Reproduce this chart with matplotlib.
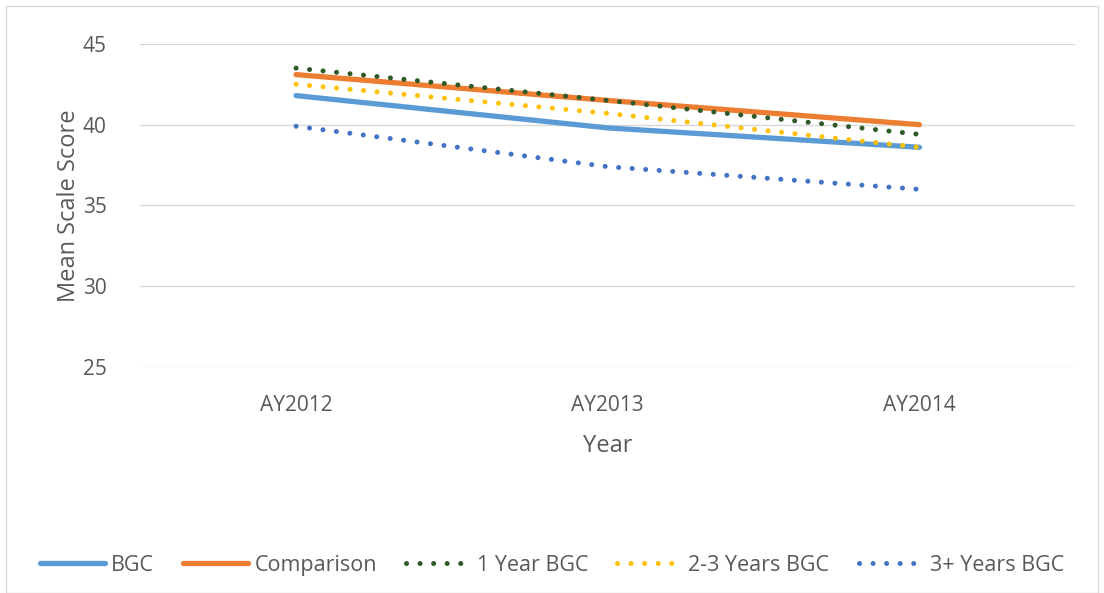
import numpy as np
import matplotlib
matplotlib.use("Agg")
import matplotlib.pyplot as plt
from matplotlib.patches import Rectangle

years = ['AY2012', 'AY2013', 'AY2014']
bgc = [41.8, 39.8, 38.6]
comparison = [43.1, 41.5, 40.0]
one_year = [43.5, 41.5, 39.4]
two_three_years = [42.5, 40.7, 38.6]
three_plus_years = [39.9, 37.4, 36.0]

plt.rcParams.update({
    'font.family': ['Open Sans', 'DejaVu Sans'],
    'font.size': 11,
})

TEXT_COLOR = '#595959'
GRID_COLOR = '#D9D9D9'

fig = plt.figure(figsize=(11.04, 5.93), dpi=100)
ax = fig.add_axes([0.127, 0.381, 0.847, 0.545])

x = np.arange(len(years))
dots = (0, (0.01, 2.7))

ax.plot(x, bgc, color='#5B9BD5', lw=3.8, solid_capstyle='round', label='BGC', zorder=3)
ax.plot(x, comparison, color='#ED7D31', lw=3.8, solid_capstyle='round', label='Comparison', zorder=3)
ax.plot(x, one_year, color='#2F5A28', lw=3.6, linestyle=dots, dash_capstyle='round',
        label='1 Year BGC', zorder=4)
ax.plot(x, two_three_years, color='#FFC000', lw=3.6, linestyle=dots, dash_capstyle='round',
        label='2-3 Years BGC', zorder=4)
ax.plot(x, three_plus_years, color='#4472C4', lw=3.6, linestyle=dots, dash_capstyle='round',
        label='3+ Years BGC', zorder=4)

ax.set_xlim(-0.5, 2.5)
ax.set_ylim(25, 45)
ax.set_yticks([25, 30, 35, 40, 45])
ax.set_xticks(x)
ax.set_xticklabels(years)
ax.yaxis.grid(True, color=GRID_COLOR, lw=1)
ax.set_axisbelow(True)
for s in ax.spines.values():
    s.set_visible(False)
ax.tick_params(length=0, colors=TEXT_COLOR, labelsize=15)
ax.tick_params(axis='x', pad=20)
ax.tick_params(axis='y', pad=24)

ax.set_xlabel('Year', color=TEXT_COLOR, fontsize=17, labelpad=13)
ax.set_ylabel('Mean Scale Score', color=TEXT_COLOR, fontsize=17, labelpad=1)

leg = fig.legend(loc='center', bbox_to_anchor=(0.5, 0.047), ncol=5, frameon=False,
                 handlelength=3.0, columnspacing=1.35, handletextpad=0.3, fontsize=15.5)
for t in leg.get_texts():
    t.set_color(TEXT_COLOR)

fig.patches.append(Rectangle((0.005, 0.0), 0.99, 0.99, transform=fig.transFigure,
                             fill=False, edgecolor='#D9D9D9', lw=1))

fig.savefig('out.png', dpi=100)
